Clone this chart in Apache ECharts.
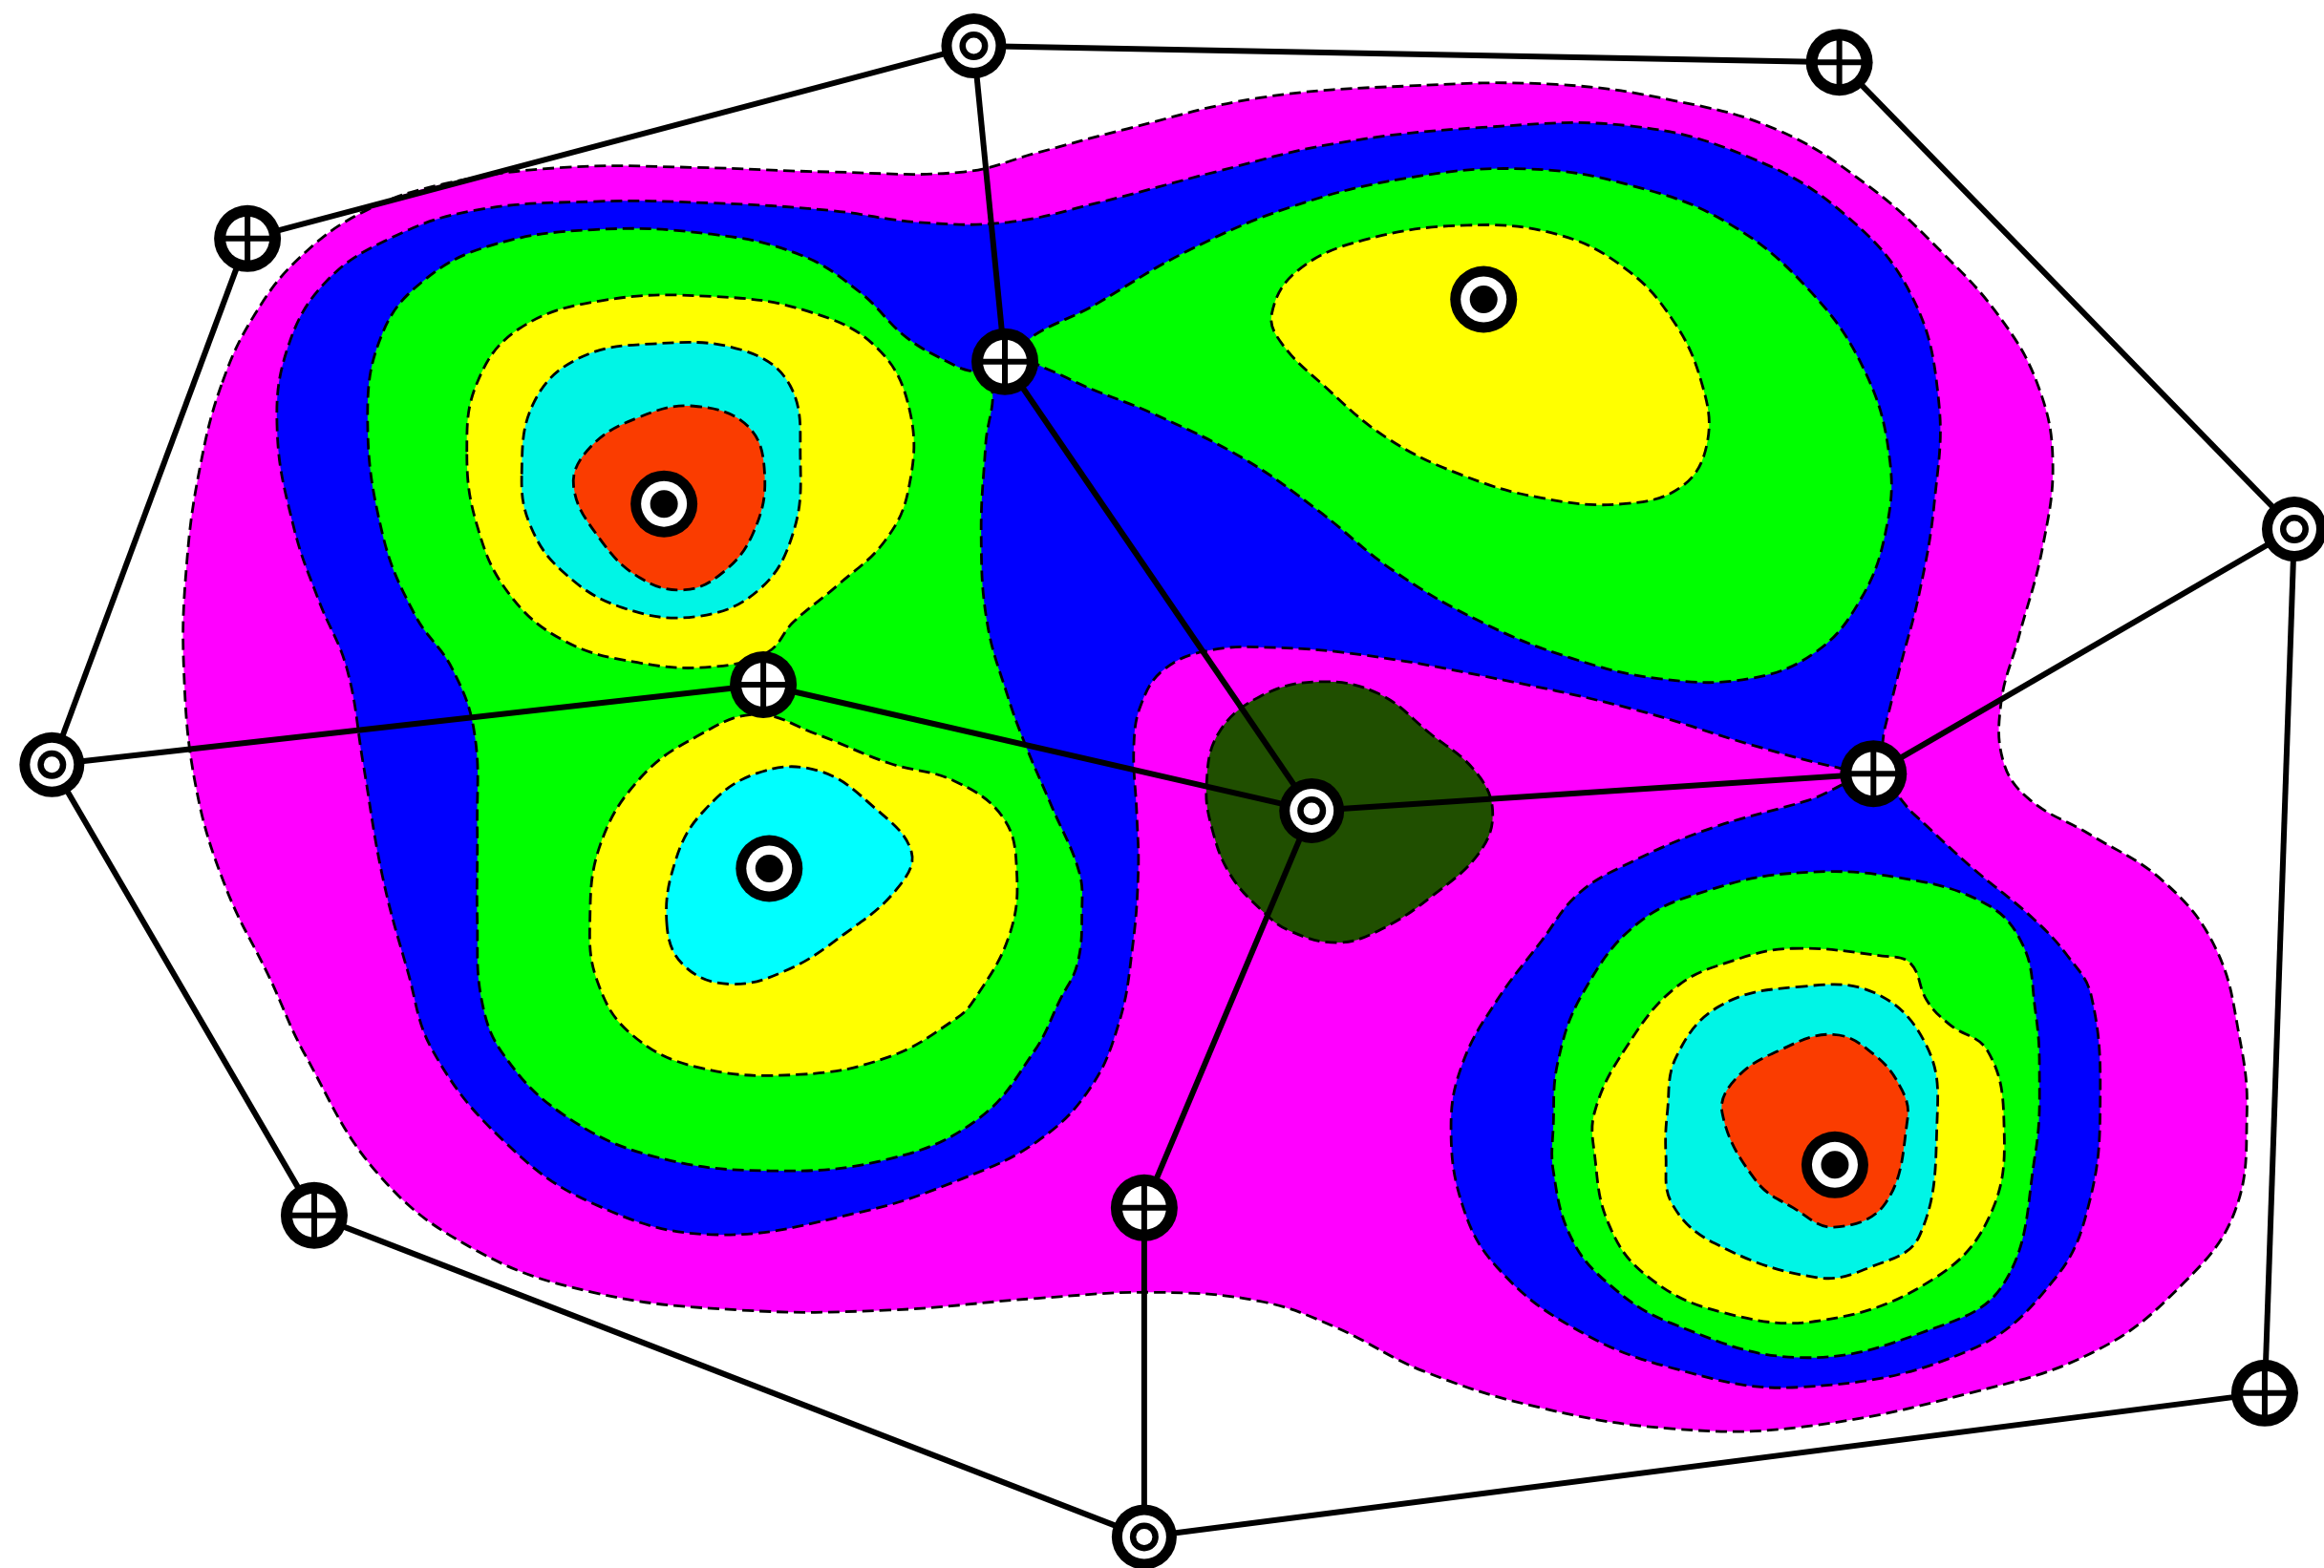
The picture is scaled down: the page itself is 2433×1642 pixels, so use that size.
<!DOCTYPE html>
<html><head><meta charset="utf-8">
<script src="https://cdn.jsdelivr.net/npm/echarts/dist/echarts.min.js"></script>
<style>html,body{margin:0;padding:0;background:#fff}#c{width:2433px;height:1642px}</style>
</head><body><div id="c"></div>
<script>
// Contour outlines (picture coordinates, x 0..1568, y 0..1058)
const magentaOuter = [[150,258],[172,212],[202,174],[245,143],[300,124],[380,113],[470,113],[560,116],[650,116],[700,103],[760,87],[850,66],[950,58],[1050,57],[1130,68],[1200,88],[1260,125],[1310,170],[1350,215],[1375,260],[1385,310],[1378,370],[1362,430],[1350,475],[1352,515],[1370,540],[1410,563],[1460,595],[1495,640],[1511,700],[1516,751],[1508,817],[1473,866],[1415,911],[1329,940],[1214,963],[1128,964],[1040,950],[960,925],[900,895],[850,878],[780,872],[700,876],[600,884],[500,884],[400,872],[320,843],[255,792],[206,712],[182,660],[152,598],[132,530],[124,451],[126,380],[135,315]];
const blueMain = [[187,290],[194,235],[220,190],[265,160],[320,142],[400,136],[480,137],[560,142],[620,150],[680,150],[740,137],[820,116],[900,97],[1000,86],[1100,85],[1180,106],[1245,145],[1290,200],[1308,270],[1305,340],[1295,400],[1282,450],[1272,490],[1264,521],[1240,518],[1183,503],[1100,478],[1000,456],[920,442],[860,437],[815,439],[785,452],[770,475],[765,503],[767,550],[768,588],[764,640],[755,690],[735,735],[700,770],[650,795],[580,818],[480,833],[400,812],[340,770],[292,709],[275,655],[258,591],[245,515],[234,451],[215,405],[198,355]];
const blueLower = [[1264,525],[1292,550],[1330,585],[1372,620],[1395,645],[1411,672],[1417,743],[1410,810],[1387,862],[1329,911],[1214,936],[1128,923],[1060,895],[1010,855],[987,814],[979,760],[987,717],[1010,675],[1040,635],[1065,603],[1100,582],[1154,559],[1220,540]];
const greenLeft = [[248,280],[258,225],[285,190],[330,166],[400,155],[480,158],[540,172],[580,197],[612,228],[645,247],[668,258],[665,300],[662,360],[666,420],[680,470],[692,503],[710,545],[728,588],[730,614],[727,650],[715,675],[698,709],[660,755],[600,782],[520,790],[440,780],[380,752],[340,712],[325,675],[322,620],[322,559],[320,494],[305,451],[280,415],[258,360]];
const greenUpper = [[690,235],[740,205],[800,170],[870,140],[950,120],[1030,114],[1100,125],[1165,150],[1220,195],[1258,250],[1275,310],[1272,360],[1255,405],[1225,440],[1180,458],[1120,458],[1060,444],[1000,420],[940,385],[890,345],[840,310],[780,280],[720,255]];
const greenLower = [[1212,589],[1280,592],[1340,610],[1365,638],[1373,680],[1376,719],[1373,780],[1352,866],[1300,898],[1214,916],[1128,893],[1085,866],[1060,835],[1048,790],[1048,760],[1051,717],[1068,670],[1105,623],[1155,600]];
const yellowE = [[858,212],[875,183],[920,162],[990,152],[1050,158],[1095,180],[1128,215],[1148,258],[1152,298],[1135,328],[1095,340],[1040,336],[985,320],[935,295],[893,260],[865,232]];
const yellowF = [[315,305],[322,258],[350,222],[405,203],[480,200],[545,210],[592,235],[614,278],[613,330],[597,365],[565,395],[535,420],[518,440],[480,450],[430,447],[380,432],[343,400],[322,355]];
const yellowL = [[398,622],[405,570],[432,525],[470,497],[510,482],[550,495],[600,515],[644,527],[677,552],[686,588],[681,631],[657,675],[644,688],[600,713],[540,725],[470,720],[425,697],[403,662]];
const yellowO = [[1209,640],[1270,645],[1289,650],[1300,675],[1315,691],[1341,709],[1352,755],[1344,817],[1306,862],[1229,891],[1160,885],[1110,860],[1085,825],[1076,780],[1076,750],[1097,707],[1131,666],[1170,648]];
const cyanF = [[352,320],[360,272],[390,242],[440,232],[500,236],[533,260],[540,310],[535,360],[512,398],[470,416],[420,410],[380,386],[358,355]];
const cyanL = [[450,625],[456,580],[475,547],[510,522],[552,520],[590,545],[615,575],[605,600],[570,630],[530,655],[492,664],[462,652]];
const cyanO = [[1212,666],[1265,670],[1300,706],[1307,755],[1295,834],[1262,855],[1226,862],[1157,839],[1128,812],[1124,780],[1125,750],[1131,713],[1160,679]];
const redF = [[387,328],[398,302],[430,282],[468,274],[505,288],[516,322],[508,360],[488,386],[462,398],[432,390],[405,364]];
const redO = [[1237,698],[1265,712],[1283,735],[1287,755],[1272,812],[1237,828],[1210,815],[1185,797],[1162,751],[1171,728],[1200,709]];
const darkGreenJ = [[814,530],[822,495],[850,470],[890,460],[930,468],[965,495],[995,520],[1007,546],[999,574],[967,604],[930,628],[902,636],[870,628],[851,614],[830,590],[818,560]];

// Network nodes: name, x, y, marker kind
const nodeNames = ['A','B','C','D','E','F','G','H','I','J','K','L','M','N','O','P','Q'];
const nodeX = [657,1241,167,678,1001,448,1548,515,35,885,1264,519,212,772,1238,1528,772];
const nodeY = [31,42,161,244,202,340,357,462,516,547,522,586,820,815,786,940,1037];
const nodeKind = ['ring','plus','plus','plus','dot','dot','ring','plus','ring','ring','plus','dot','plus','plus','dot','plus','ring'];
const edges = [['A','B'],['A','C'],['A','D'],['B','G'],['C','I'],['I','H'],['I','M'],['H','J'],['D','J'],['J','K'],['J','N'],['K','G'],['G','P'],['P','Q'],['M','Q'],['N','Q']];

const contours = [
  {pts: magentaOuter, color: '#ff00ff'},
  {pts: blueMain, color: '#0000ff'},
  {pts: blueLower, color: '#0000ff'},
  {pts: greenLeft, color: '#00ff00'},
  {pts: greenUpper, color: '#00ff00'},
  {pts: greenLower, color: '#00ff00'},
  {pts: yellowE, color: '#ffff00'},
  {pts: yellowF, color: '#ffff00'},
  {pts: yellowL, color: '#ffff00'},
  {pts: yellowO, color: '#ffff00'},
  {pts: cyanF, color: '#00f5e6'},
  {pts: cyanL, color: '#00ffff'},
  {pts: cyanO, color: '#00f5e6'},
  {pts: redF, color: '#fa3c00'},
  {pts: redO, color: '#fa3c00'},
  {pts: darkGreenJ, color: '#204f00'}
];

const idx = n => nodeNames.indexOf(n);
const edgeData = edges.map(e => [nodeX[idx(e[0])], nodeY[idx(e[0])], nodeX[idx(e[1])], nodeY[idx(e[1])]]);
const nodeData = nodeNames.map((n, i) => [nodeX[i], nodeY[i], i]);

const chart = echarts.init(document.getElementById('c'), null, {renderer: 'canvas'});
chart.setOption({
  animation: false,
  backgroundColor: '#ffffff',
  grid: {left: 0, right: 0, top: 0, bottom: 0},
  xAxis: {type: 'value', min: 0, max: 1568, show: false},
  yAxis: {type: 'value', min: 0, max: 1058, inverse: true, show: false},
  series: [
    {
      type: 'custom', clip: false, silent: true,
      data: contours.map((c, i) => [i, 0]),
      renderItem: function (params, api) {
        const c = contours[api.value(0)];
        const points = c.pts.map(p => api.coord(p));
        return {
          type: 'polygon',
          shape: {points: points, smooth: 0.4},
          style: {fill: c.color, stroke: '#000', lineWidth: 2.8, lineDash: [12, 6]}
        };
      }
    },
    {
      type: 'custom', clip: false, silent: true,
      data: edgeData,
      renderItem: function (params, api) {
        const p1 = api.coord([api.value(0), api.value(1)]);
        const p2 = api.coord([api.value(2), api.value(3)]);
        return {
          type: 'line',
          shape: {x1: p1[0], y1: p1[1], x2: p2[0], y2: p2[1]},
          style: {stroke: '#000', lineWidth: 6}
        };
      }
    },
    {
      type: 'custom', clip: false, silent: true,
      data: nodeData,
      renderItem: function (params, api) {
        const p = api.coord([api.value(0), api.value(1)]);
        const kind = nodeKind[api.value(2)];
        const cx = p[0], cy = p[1];
        const circ = (r, fill) => ({type: 'circle', shape: {cx: cx, cy: cy, r: r}, style: {fill: fill}});
        let children;
        if (kind === 'ring') {
          children = [circ(34, '#000'), circ(23, '#fff'), circ(15, '#000'), circ(8.5, '#fff')];
        } else if (kind === 'dot') {
          children = [circ(35, '#000'), circ(24, '#fff'), circ(14.5, '#000')];
        } else {
          children = [circ(35, '#000'), circ(23, '#fff'),
            {type: 'rect', shape: {x: cx - 3, y: cy - 24, width: 6, height: 48}, style: {fill: '#000'}},
            {type: 'rect', shape: {x: cx - 24, y: cy - 3, width: 48, height: 6}, style: {fill: '#000'}}];
        }
        return {type: 'group', children: children};
      }
    }
  ]
});
</script>
</body></html>
